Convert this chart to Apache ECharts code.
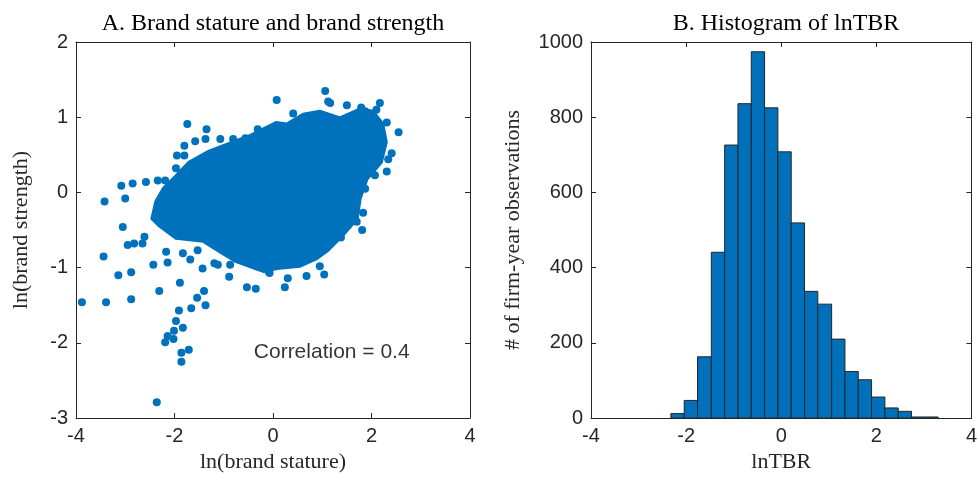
<!DOCTYPE html>
<html>
<head>
<meta charset="utf-8">
<script src="https://cdn.jsdelivr.net/npm/echarts@6/dist/echarts.min.js"></script>
<style>
  html, body { margin: 0; padding: 0; background: #fff; }
  #chart { width: 980px; height: 478px; }
</style>
</head>
<body>
<div id="chart"></div>
<script>
// panel A: outline of the dense cloud
var cloudX = [-2.46, -2.38, -2.23, -1.97, -1.71, -1.30, -0.49, 0.06, 0.28, 0.61, 0.95, 1.36, 1.77, 2.03, 2.23, 2.30, 2.20, 1.91, 1.77, 1.71, 1.42, 1.10, 0.89, 0.55, 0.08, -0.20, -0.75, -1.10, -1.42, -1.97, -2.32]
var cloudY = [-0.35, -0.12, 0.05, 0.22, 0.40, 0.55, 0.75, 0.93, 0.91, 1.04, 1.08, 0.99, 1.11, 1.08, 0.91, 0.67, 0.40, 0.18, -0.08, -0.35, -0.57, -0.78, -0.88, -0.98, -1.01, -1.05, -0.92, -0.78, -0.65, -0.61, -0.44]

// panel A: individual points around the cloud
var pointX = [1.06, 0.075, 1.12, 1.16, 0.41, -1.74, -1.35, 2.17, 2.55, 2.31, 2.41, 2.34, 2.31, 2.07, 1.50, 1.79, 1.87, 2.10, 1.87, 1.83, 1.81, 1.70, 1.38,
  -3.42, -3.08, -2.85, -3.00, -3.05, -2.58, -2.34, -2.19, -1.58, -1.37, -1.07, -0.81, -0.56, -1.80, -1.95, -1.80, -1.97, -0.31,
  -3.88, -3.39, -2.88, -3.44, -3.14, -2.88, -2.95, -2.82, -2.65, -2.61, -2.43, -2.14, -2.17, -2.31, -1.89, -1.83, -1.68, -1.53, -1.43, -1.40, -1.54, -1.37, -1.66, -1.91, -1.97, -1.83, -2.01, -2.14, -2.19, -2.02, -1.71, -1.86, -1.86, -2.36,
  -0.89, -0.53, -0.35, 0.24, 0.30, 0.68, 1.04, 0.95, -0.07, -0.33, -1.12, -1.19, -0.87, -0.32, -0.09]
var pointY = [1.35, 1.23, 1.21, 1.19, 1.05, 0.91, 0.84, 1.19, 0.80, 0.93, 0.52, 0.44, 0.28, 0.23, 1.16, 1.13, 1.08, 1.10, 0.05, -0.27, -0.50, -0.39, -0.60,
  -0.12, 0.09, 0.12, -0.08, -0.46, 0.14, 0.16, 0.16, 0.68, 0.71, 0.71, 0.71, 0.72, 0.62, 0.49, 0.49, 0.32, 0.84,
  -1.46, -1.46, -1.42, -0.85, -1.10, -1.06, -0.70, -0.68, -0.68, -0.59, -0.96, -0.93, -0.79, -1.31, -1.20, -0.81, -0.89, -0.77, -1.01, -1.31, -1.40, -1.50, -1.54, -1.57, -1.71, -1.80, -1.84, -1.91, -1.99, -1.95, -2.09, -2.13, -2.25, -2.79,
  -1.12, -1.26, -1.28, -1.26, -1.14, -1.11, -1.09, -0.98, -1.07, -0.98, -0.96, -0.94, -0.96, -0.97, -1.05]

// panel B: histogram of lnTBR
var binEdges = [-2.32, -2.04, -1.76, -1.47, -1.19, -0.91, -0.63, -0.35, -0.07, 0.21, 0.49, 0.77, 1.06, 1.34, 1.62, 1.90, 2.18, 2.46, 2.74, 3.02, 3.30]
var binCounts = [12, 47, 163, 441, 726, 836, 974, 825, 708, 519, 337, 303, 210, 124, 102, 56, 27, 18, 3, 3]

var corrText = 'Correlation = 0.4'

var axisColor = '#262626'
var blue = '#0072BD'
var sans = 'Liberation Sans'
var serif = 'Liberation Serif'

function boxAxis(pos, gridIndex, min, max, interval, withLabels, name, gap) {
  var a = {
    type: 'value',
    gridIndex: gridIndex,
    position: pos,
    min: min,
    max: max,
    interval: interval,
    axisLine: { show: true, onZero: false, lineStyle: { color: axisColor, width: 1 } },
    axisTick: { show: true, inside: true, length: 5, lineStyle: { color: axisColor } },
    axisLabel: {
      show: withLabels, color: axisColor, fontFamily: sans, fontSize: 20, margin: 8,
      formatter: function(v) { return String(v) }
    },
    splitLine: { show: false }
  }
  if (name) {
    a.name = name
    a.nameLocation = 'middle'
    a.nameGap = gap
    a.nameTextStyle = { color: axisColor, fontFamily: serif, fontSize: 22 }
  }
  return a
}

var chart = echarts.init(document.getElementById('chart'), null, { renderer: 'canvas' })

var scatterData = pointX.map(function(x, i) { return [x, pointY[i]] })
var histData = binCounts.map(function(c, i) { return [binEdges[i], binEdges[i + 1], c] })

var option = {
  animation: false,
  backgroundColor: '#fff',
  title: [
    { text: 'A. Brand stature and brand strength', left: 268, top: 7, textAlign: 'center',
      textStyle: { fontFamily: serif, fontSize: 24, fontWeight: 'normal', color: '#000' } },
    { text: 'B. Histogram of lnTBR', left: 781, top: 7, textAlign: 'center',
      textStyle: { fontFamily: serif, fontSize: 24, fontWeight: 'normal', color: '#000' } }
  ],
  grid: [
    { left: 76, right: 510, top: 42, bottom: 57 },
    { left: 591, right: 4, top: 42, bottom: 58 }
  ],
  xAxis: [
    boxAxis('bottom', 0, -4, 4, 2, true, 'ln(brand stature)', 32),
    boxAxis('top', 0, -4, 4, 2, false),
    boxAxis('bottom', 1, -4, 4, 2, true, 'lnTBR', 32),
    boxAxis('top', 1, -4, 4, 2, false)
  ],
  yAxis: [
    boxAxis('left', 0, -3, 2, 1, true, 'ln(brand strength)', 44),
    boxAxis('right', 0, -3, 2, 1, false),
    boxAxis('left', 1, 0, 1000, 200, true, '# of firm-year observations', 67),
    boxAxis('right', 1, 0, 1000, 200, false)
  ],
  series: [
    {
      // dense part of the cloud
      type: 'custom',
      xAxisIndex: 0,
      yAxisIndex: 0,
      data: [[0, 0]],
      renderItem: function(params, api) {
        var pts = cloudX.map(function(x, i) { return api.coord([x, cloudY[i]]) })
        return {
          type: 'polygon',
          shape: { points: pts },
          style: { fill: blue, stroke: blue, lineWidth: 3, lineJoin: 'round' }
        }
      },
      z: 2
    },
    {
      type: 'scatter',
      xAxisIndex: 0,
      yAxisIndex: 0,
      symbol: 'circle',
      symbolSize: 8,
      itemStyle: { color: blue, opacity: 1 },
      data: scatterData,
      z: 3
    },
    {
      // annotation
      type: 'scatter',
      xAxisIndex: 0,
      yAxisIndex: 0,
      symbolSize: 0,
      data: [[-0.39, -2.13]],
      label: {
        show: true,
        position: 'right',
        distance: 0,
        formatter: corrText,
        color: '#000',
        fontFamily: sans,
        fontSize: 21
      },
      silent: true,
      z: 4
    },
    {
      type: 'custom',
      xAxisIndex: 2,
      yAxisIndex: 2,
      data: histData,
      encode: { x: [0, 1], y: 2 },
      renderItem: function(params, api) {
        var p0 = api.coord([api.value(0), 0])
        var p1 = api.coord([api.value(1), api.value(2)])
        return {
          type: 'rect',
          shape: { x: p0[0], y: p1[1], width: p1[0] - p0[0], height: p0[1] - p1[1] },
          style: { fill: '#0070BA', stroke: '#262626', lineWidth: 1 }
        }
      },
      z: 2
    }
  ]
}

chart.setOption(option)
</script>
</body>
</html>
